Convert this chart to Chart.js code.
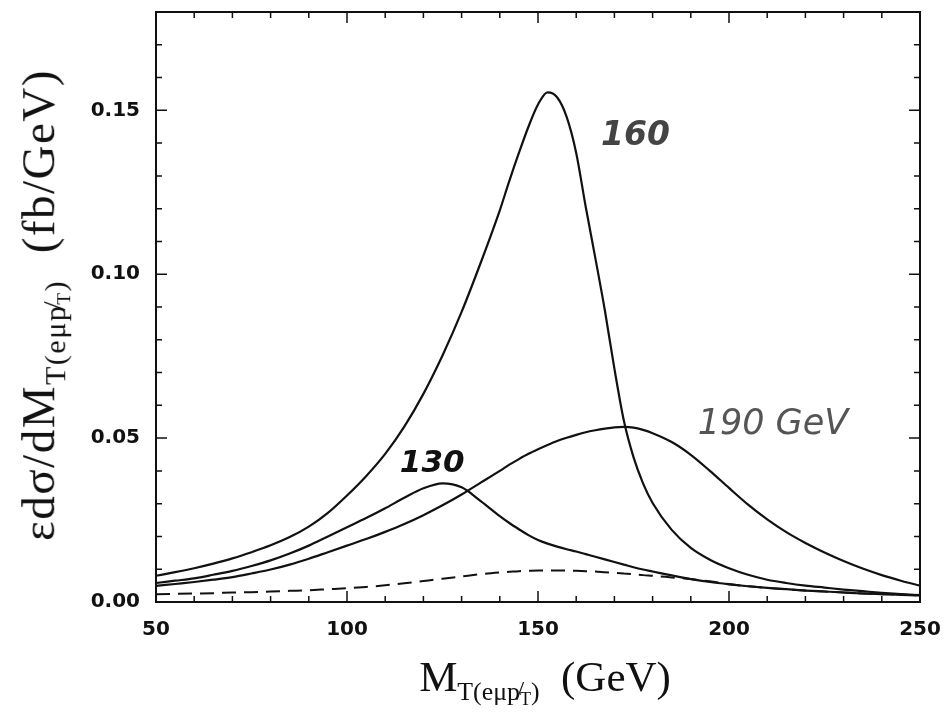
<!DOCTYPE html>
<html>
<head>
<meta charset="utf-8">
<script src="https://cdn.jsdelivr.net/npm/chart.js@4.4.1/dist/chart.umd.min.js"></script>
<style>
  body { margin: 0; background: #fff; }
  #wrap { position: relative; width: 948px; height: 715px; }
  .axis-title {
    position: absolute;
    font-family: "Liberation Serif", "DejaVu Serif", serif;
    font-size: 43px;
    color: #111;
    white-space: nowrap;
    line-height: 1;
  }
  .axis-title sub { font-size: 60%; vertical-align: -0.35em; }
  .axis-title sub sub { font-size: 70%; vertical-align: -0.25em; }
  #xTitle { left: 545px; top: 655px; transform: translateX(-50%); }
  #yTitle { left: 44px; top: 305px; font-size: 47px; letter-spacing: 1.5px;
            transform: translate(-50%, -50%) rotate(-90deg); }
  #yTitle sub { font-size: 64%; }
</style>
</head>
<body>
<div id="wrap">
  <canvas id="chart" width="948" height="715"></canvas>
  <div id="xTitle" class="axis-title">M<sub>T(eμp̸<sub>T</sub>)</sub>&nbsp; (GeV)</div>
  <div id="yTitle" class="axis-title">εdσ/dM<sub>T(eμp̸<sub>T</sub>)</sub>&nbsp; (fb/GeV)</div>
</div>
<script>
// transverse mass grid (GeV)
const mass = [50, 55, 60, 65, 70, 75, 80, 85, 90, 95, 100, 105, 110, 115, 120, 125, 130, 135, 140,
  142.5, 145, 147.5, 150, 152.5, 155, 157.5, 160, 162.5, 165, 167.5, 170, 172.5, 175, 177.5, 180,
  185, 190, 195, 200, 205, 210, 215, 220, 225, 230, 235, 240, 245, 250];

// Higgs mass 160 GeV
const higgs160 = [0.0080, 0.0091, 0.0103, 0.0117, 0.0133, 0.0152, 0.0173, 0.0198, 0.0230, 0.0272,
  0.0325, 0.0384, 0.0452, 0.0535, 0.0635, 0.0752, 0.0885, 0.1035, 0.1195,
  0.1285, 0.1370, 0.1450, 0.1518, 0.1555, 0.1540, 0.1480, 0.1370, 0.1205, 0.1050, 0.0890, 0.0712,
  0.0552, 0.0442, 0.0362, 0.0302,
  0.0220, 0.0165, 0.0129, 0.0103, 0.0083, 0.0068, 0.0058, 0.0050, 0.0044, 0.0038, 0.0033, 0.0028,
  0.0024, 0.0021];

// Higgs mass 130 GeV
const higgs130 = [0.0058, 0.0065, 0.0072, 0.0083, 0.0095, 0.0110, 0.0127, 0.0148, 0.0172, 0.0200,
  0.0228, 0.0256, 0.0286, 0.0318, 0.0347, 0.0362, 0.0350, 0.0308, 0.0262,
  0.0241, 0.0222, 0.0204, 0.0189, 0.0178, 0.0169, 0.0161, 0.0154, 0.0146, 0.0138, 0.0130, 0.0122,
  0.0114, 0.0106, 0.0099, 0.0093,
  0.0081, 0.0070, 0.0061, 0.0054, 0.0048, 0.0043, 0.0039, 0.0035, 0.0032, 0.0029, 0.0026, 0.0024,
  0.0022, 0.0020];

// Higgs mass 190 GeV
const higgs190 = [0.0049, 0.0055, 0.0061, 0.0068, 0.0076, 0.0087, 0.0099, 0.0114, 0.0132, 0.0152,
  0.0172, 0.0192, 0.0214, 0.0238, 0.0265, 0.0295, 0.0328, 0.0364, 0.0400,
  0.0419, 0.0436, 0.0452, 0.0466, 0.0479, 0.0491, 0.0501, 0.0510, 0.0518, 0.0524, 0.0529, 0.0533,
  0.0534, 0.0532, 0.0525, 0.0515,
  0.0488, 0.0449, 0.0400, 0.0348, 0.0297, 0.0252, 0.0213, 0.0180, 0.0151, 0.0125, 0.0102, 0.0082,
  0.0065, 0.0050];

// background (dashed)
const background = [0.0024, 0.0025, 0.0026, 0.0027, 0.0029, 0.0030, 0.0032, 0.0034, 0.0036, 0.0039,
  0.0042, 0.0046, 0.0051, 0.0057, 0.0064, 0.0071, 0.0078, 0.0085, 0.0090,
  0.0092, 0.0094, 0.0095, 0.0096, 0.0096, 0.0096, 0.0096, 0.0095, 0.0094, 0.0093, 0.0091, 0.0089,
  0.0087, 0.0085, 0.0082, 0.0080,
  0.0075, 0.0070, 0.0063, 0.0055, 0.0048, 0.0043, 0.0039, 0.0035, 0.0032, 0.0029, 0.0026, 0.0024,
  0.0022, 0.0020];

const xMajor = [50, 100, 150, 200, 250];
const yMajor = [0.00, 0.05, 0.10, 0.15];

// handwritten notes, anchored in data coordinates
const notes = [
  { text: "160", x: 175.5, y: 0.142, color: "#444", font: "italic bold 33px 'DejaVu Sans'" },
  { text: "130", x: 122.3, y: 0.042, color: "#111", font: "italic bold 31px 'DejaVu Sans'" },
  { text: "190 GeV", x: 211.5, y: 0.054, color: "#555", font: "italic 35px 'DejaVu Sans'" }
];

const toPoints = ys => ys.map((v, i) => ({ x: mass[i], y: v }));
const isMajor = (v, list) => list.some(m => Math.abs(m - v) < 1e-6);

// frame + inward ticks on all four sides, plus notes
const framePlugin = {
  id: "frame",
  afterDatasetsDraw(chart) {
    const { ctx, chartArea: a, scales: { x, y } } = chart;
    ctx.save();
    ctx.strokeStyle = "#111";
    ctx.lineWidth = 2;
    ctx.strokeRect(a.left, a.top, a.right - a.left, a.bottom - a.top);
    ctx.lineWidth = 1.5;
    ctx.beginPath();
    x.ticks.forEach(t => {
      const px = x.getPixelForValue(t.value);
      const len = isMajor(t.value, xMajor) ? 11 : 6;
      ctx.moveTo(px, a.bottom); ctx.lineTo(px, a.bottom - len);
      ctx.moveTo(px, a.top); ctx.lineTo(px, a.top + len);
    });
    y.ticks.forEach(t => {
      const py = y.getPixelForValue(t.value);
      const len = isMajor(t.value, yMajor) ? 11 : 6;
      ctx.moveTo(a.left, py); ctx.lineTo(a.left + len, py);
      ctx.moveTo(a.right, py); ctx.lineTo(a.right - len, py);
    });
    ctx.stroke();

    ctx.textAlign = "center";
    ctx.textBaseline = "middle";
    notes.forEach(n => {
      ctx.font = n.font;
      ctx.fillStyle = n.color;
      ctx.fillText(n.text, x.getPixelForValue(n.x), y.getPixelForValue(n.y));
    });
    ctx.restore();
  }
};

const lineStyle = {
  borderColor: "#111",
  borderWidth: 2.2,
  pointRadius: 0,
  fill: false,
  cubicInterpolationMode: "monotone"
};

new Chart(document.getElementById("chart"), {
  type: "line",
  data: {
    datasets: [
      { label: "160", data: toPoints(higgs160), ...lineStyle },
      { label: "130", data: toPoints(higgs130), ...lineStyle },
      { label: "190", data: toPoints(higgs190), ...lineStyle },
      { label: "background", data: toPoints(background), ...lineStyle, borderWidth: 2, borderDash: [14, 8] }
    ]
  },
  options: {
    responsive: false,
    devicePixelRatio: 1,
    animation: false,
    layout: { padding: { left: 0, right: 28, top: 12, bottom: 0 } },
    plugins: { legend: { display: false }, tooltip: { enabled: false } },
    scales: {
      x: {
        type: "linear",
        min: 50,
        max: 250,
        grid: { display: false },
        border: { display: false },
        afterFit: s => { s.height = 113; s.paddingLeft = 0; s.paddingRight = 0; },
        ticks: {
          stepSize: 10,
          autoSkip: false,
          maxRotation: 0,
          padding: 8,
          color: "#111",
          font: { family: "DejaVu Sans", size: 20, weight: "bold" },
          callback: v => isMajor(v, xMajor) ? String(v) : ""
        }
      },
      y: {
        min: 0,
        max: 0.18,
        grid: { display: false },
        border: { display: false },
        afterFit: s => { s.width = 156; s.paddingTop = 0; s.paddingBottom = 0; },
        ticks: {
          stepSize: 0.01,
          autoSkip: false,
          padding: 8,
          color: "#111",
          font: { family: "DejaVu Sans", size: 20, weight: "bold" },
          callback: v => isMajor(v, yMajor) ? v.toFixed(2) : ""
        }
      }
    }
  },
  plugins: [framePlugin]
});
</script>
</body>
</html>
